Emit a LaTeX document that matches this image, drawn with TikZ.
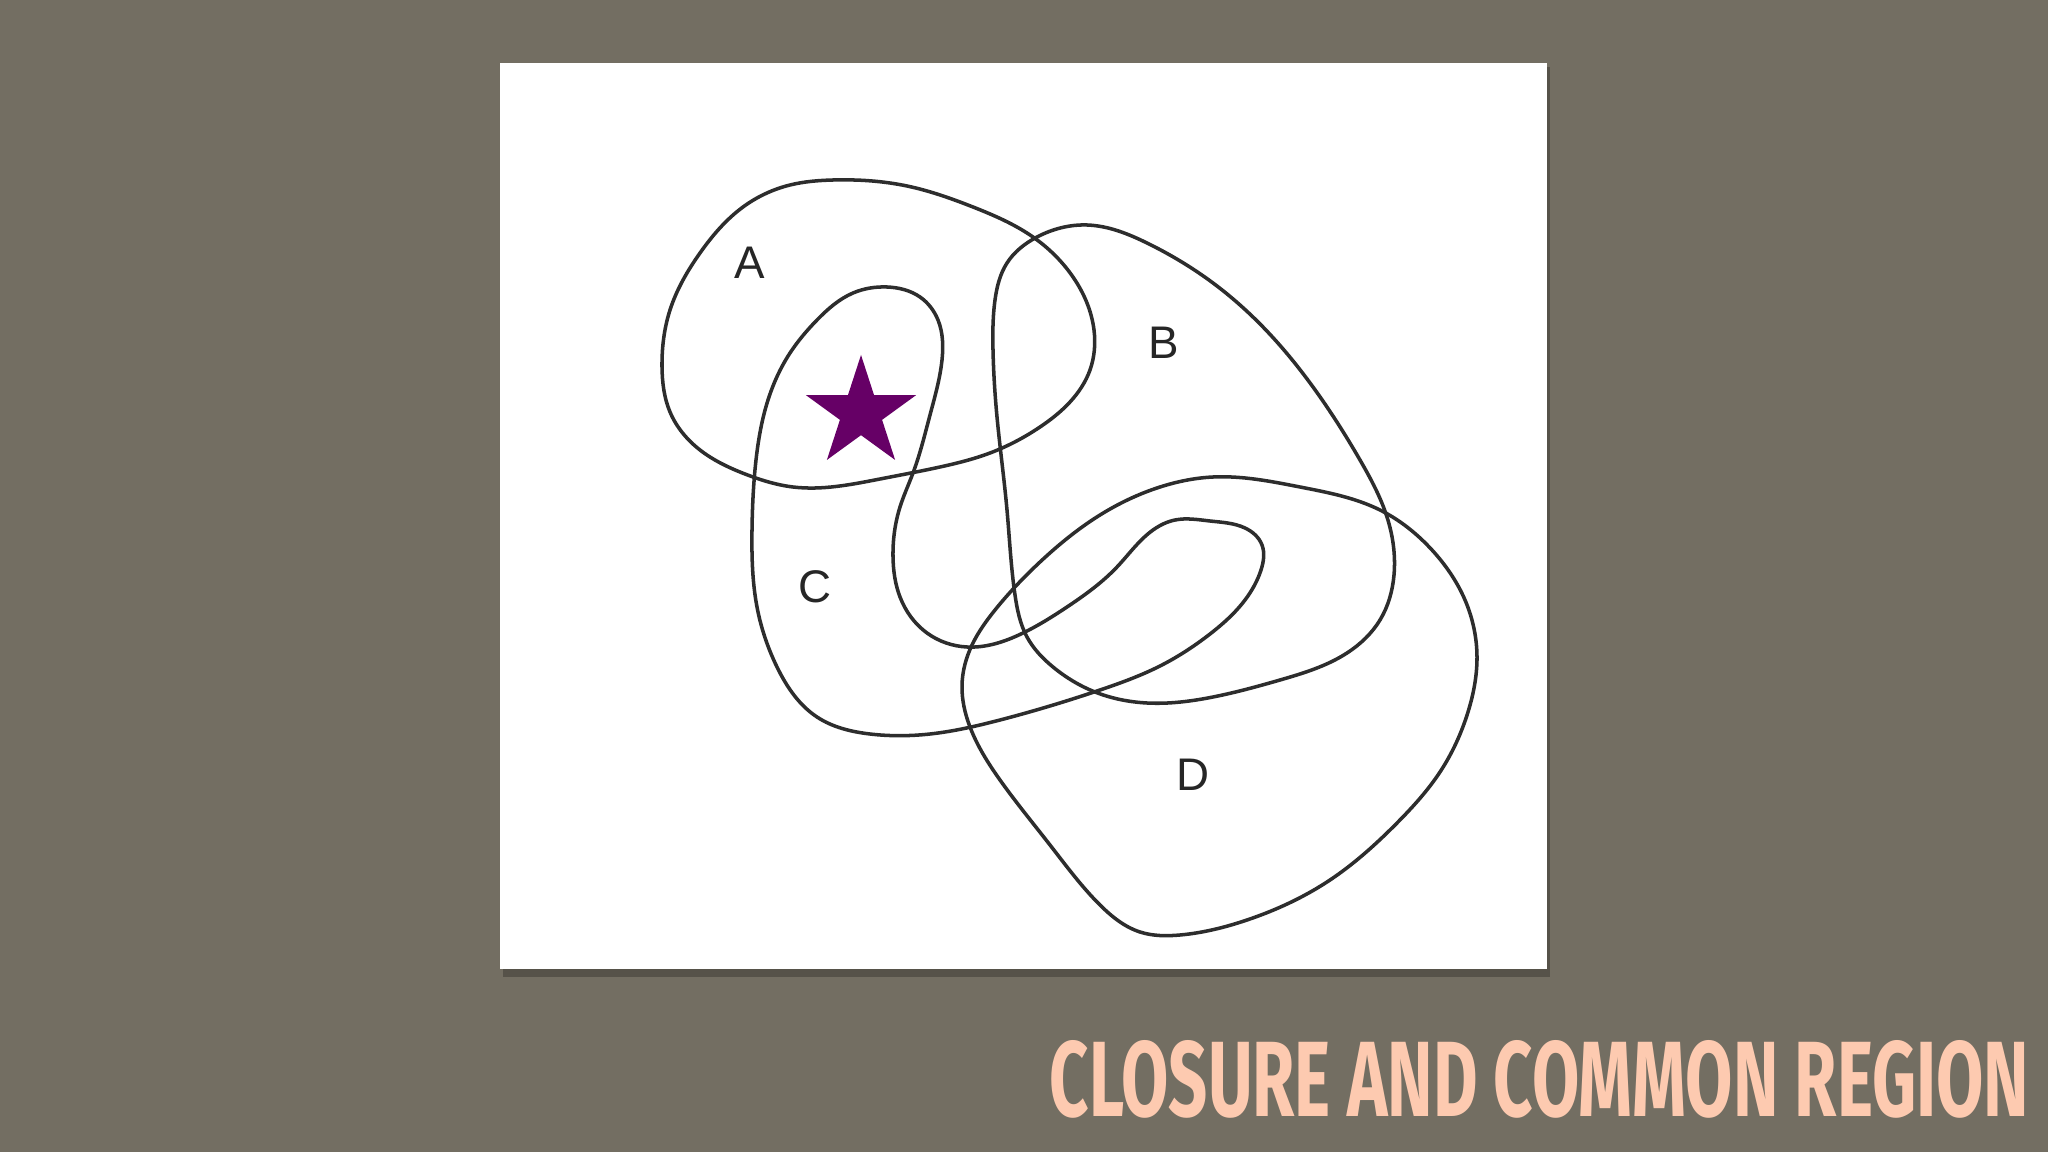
\documentclass[tikz,border=0pt]{standalone}
\usepackage{fontspec}
\usepackage{graphicx}
\setmainfont{Liberation Sans}
\newfontfamily\titrefont{Fira Sans}
\usetikzlibrary{shapes.geometric,hobby}
\definecolor{fond}{RGB}{115,110,98}
\definecolor{peche}{RGB}{253,202,176}
\definecolor{pourpre}{RGB}{102,0,102}
\definecolor{trait}{RGB}{45,45,45}

\begin{document}
\begin{tikzpicture}[x=0.01cm, y=-0.01cm,
    contour/.style={draw=trait, line width=1pt},
    lettre/.style={font=\fontsize{13}{15}\selectfont, text=black!85, inner sep=0pt}]
  % Fond et feuille
  \fill[fond] (0,0) rectangle (2048,1152);
  \useasboundingbox (0,0) rectangle (2048,1152);
  \fill[black, opacity=0.25] (503,67) rectangle (1550,977);
  \fill[white] (500,63) rectangle (1547,969);

  % Region A
  \draw[contour] plot[closed hobby] coordinates {(833,180) (907,186) (973,207) (1033,237)
    (1073,277) (1094,330) (1090,370) (1070,402) (1040,427) (990,453) (940,467) (880,479) (793,487)
    (745,474) (700,450) (670,412) (662,367) (670,310) (700,253) (743,207) (790,185)};

  % Region B
  \draw[contour] plot[closed hobby] coordinates {(1087,225) (1147,243) (1213,283)
    (1263,327) (1313,387) (1360,460) (1387,517) (1394,575) (1380,620) (1347,653) (1280,680) (1213,697)
    (1147,703) (1095,692) (1053,667) (1027,637) (1015,595) (1007,510) (997,417) (993,350) (995,300)
    (1007,263) (1037,237)};

  % Region C
  \draw[contour] plot[closed hobby] coordinates {(887,287) (853,293) (817,320) (790,353)
    (768,400) (756,460) (752,530) (757,607) (777,667) (817,717) (870,734) (930,734) (1000,720)
    (1100,690) (1160,666) (1210,634) (1245,600) (1261,570) (1262,545) (1245,528) (1210,521) (1175,520)
    (1153,530) (1117,567) (1067,607) (1023,633) (967,647) (927,633) (900,597) (893,557) (900,507)
    (913,473) (930,415) (942,360) (938,320) (920,297)};

  % Region D
  \draw[contour] plot[closed hobby] coordinates {(1213,477) (1300,487) (1380,510)
    (1432,550) (1465,600) (1477,657) (1468,712) (1440,772) (1397,823) (1330,880) (1247,920)
    (1180,935) (1140,932) (1100,905) (1050,845) (1000,780) (970,727) (962,685) (972,645) (995,610)
    (1040,562) (1100,515) (1160,487)};

  % Etiquettes
  \node[lettre] (lblA) at (750,263) {A};
  \node[lettre] (lblB) at (1164,343) {B};
  \node[lettre] (lblC) at (815,587) {C};
  \node[lettre] (lblD) at (1193,775) {D};

  % Etoile
  \node[star, star points=5, star point ratio=2.618, minimum size=1.16cm, inner sep=0pt,
    fill=pourpre] (etoile) at (861,413) {};

  % Titre
  \node[anchor=south west, inner sep=0pt, text=peche] (titre) at (1049,1119)
    {\resizebox{9.79cm}{0.76cm}{\titrefont\bfseries CLOSURE AND COMMON REGION}};
\end{tikzpicture}
\end{document}
